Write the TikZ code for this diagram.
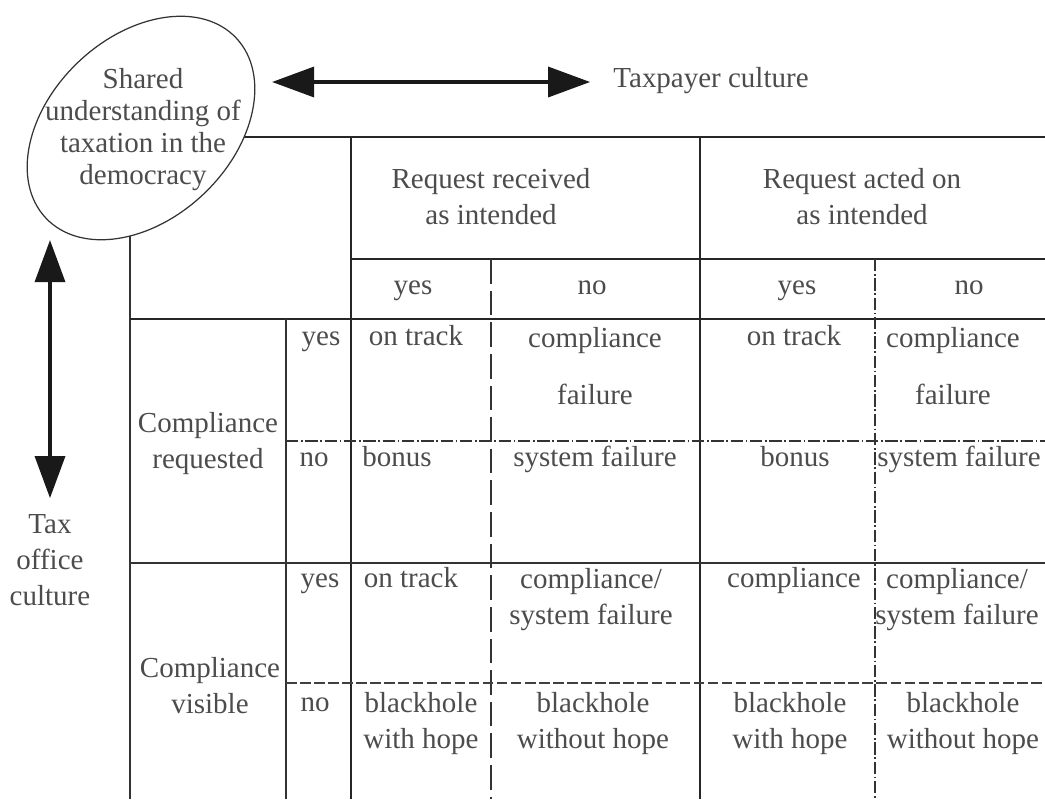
\documentclass[tikz,border=0pt]{standalone}
\usepackage{fontspec}
\setmainfont{Liberation Serif}
\usetikzlibrary{arrows.meta}

\newcommand{\cellfont}{\fontsize{16.5}{20.5}\selectfont}
\newcommand{\ovalfont}{\fontsize{16.5}{18.2}\selectfont}

\tikzset{
    % Table lines - heavy and light
    rule/.style={line width=1.4pt, black!85},
    thin rule/.style={line width=0.9pt, black!80},
    % Split lines inside the groups
    split dash/.style={line width=0.9pt, black!80, dash pattern=on 14pt off 4pt},
    split dot/.style={line width=0.9pt, black!80, dash pattern=on 7pt off 1.5pt on 1pt off 1.5pt},
    row dash/.style={line width=1.1pt, black!75, dash pattern=on 6pt off 2pt},
    % Oval and arrows
    oval/.style={line width=0.7pt, black!80, fill=white},
    culture arrow/.style={{Triangle[length=24pt,width=17pt]}-{Triangle[length=24pt,width=17pt]}, line width=2.3pt, black!90},
    % Text
    cell/.style={font=\cellfont, text=black!70, align=center, inner sep=1pt},
    word/.style={cell, text height=0.9em, text depth=0.22em},
    oval text/.style={font=\ovalfont, text=black!70, align=center, inner sep=1pt},
}

\begin{document}
\begin{tikzpicture}[x=0.2mm, y=-0.2mm]
    \useasboundingbox (0,0) rectangle (1045,799);

    % Table frame
    \draw[rule] (200,137) -- (1045,137);
    \draw[thin rule] (130,150) -- (130,799);
    \draw[rule] (351,137) -- (351,799);
    \draw[rule] (700,137) -- (700,799);
    \draw[rule] (351,259) -- (1045,259);
    \draw[rule] (130,319) -- (1045,319);
    \draw[thin rule] (286,319) -- (286,799);
    \draw[thin rule] (130,563) -- (1045,563);

    % Yes/no splits
    \draw[split dash] (491,259) -- (491,799);
    \draw[split dot] (875,259) -- (875,799);
    \draw[split dot] (286,441) -- (1045,441);
    \draw[row dash] (286,683) -- (1045,683);

    % Shared understanding
    \coordinate (shared-c) at (141,128);
    \draw[oval, rotate around={43.5:(shared-c)}] (shared-c) ellipse (131 and 91);
    \node[oval text] (shared) at (143,130) {Shared\\understanding of\\taxation in the\\democracy};

    % Cultures
    \node[word] (taxpayer) at (711,82) {Taxpayer culture};
    \node[cell] (taxoffice) at (50,560) {Tax\\office\\culture};
    \coordinate (tp-l) at (272,82);
    \coordinate (to-t) at (50,240);
    \draw[culture arrow] (tp-l) -- ([xshift=-12pt]taxpayer.west);
    \draw[culture arrow] (to-t) -- ([yshift=8pt]taxoffice.north);

    % Column heads
    \node[cell] (recv) at (491,197) {Request received\\as intended};
    \node[cell] (acted) at (862,197) {Request acted on\\as intended};
    \node[word] (recv-y) at (413,289) {yes};
    \node[word] (recv-n) at (592,289) {no};
    \node[word] (acted-y) at (797,289) {yes};
    \node[word] (acted-n) at (969,289) {no};

    % Row heads
    \node[cell] (req) at (208,444) {Compliance\\requested};
    \node[cell] (vis) at (210,686) {Compliance\\visible};
    \node[word] (req-y) at (321,340) {yes};
    \node[word] (req-n) at (314,461) {no};
    \node[word] (vis-y) at (320,582) {yes};
    \node[word] (vis-n) at (315,706) {no};

    % Outcomes
    \node[word] (c11) at (416,340) {on track};
    \node[cell] (c12) at (595,366) {compliance\\[12pt]failure};
    \node[word] (c13) at (794,340) {on track};
    \node[cell] (c14) at (953,366) {compliance\\[12pt]failure};
    \node[word] (c21) at (397,461) {bonus};
    \node[word] (c22) at (595,461) {system failure};
    \node[word] (c23) at (795,461) {bonus};
    \node[word] (c24) at (959,461) {system failure};
    \node[word] (c31) at (411,582) {on track};
    \node[cell] (c32) at (591,600) {compliance/\\system failure};
    \node[word] (c33) at (794,582) {compliance};
    \node[cell] (c34) at (957,600) {compliance/\\system failure};
    \node[cell] (c41) at (421,724) {blackhole\\with hope};
    \node[cell] (c42) at (593,724) {blackhole\\without hope};
    \node[cell] (c43) at (790,724) {blackhole\\with hope};
    \node[cell] (c44) at (963,724) {blackhole\\without hope};
\end{tikzpicture}
\end{document}
